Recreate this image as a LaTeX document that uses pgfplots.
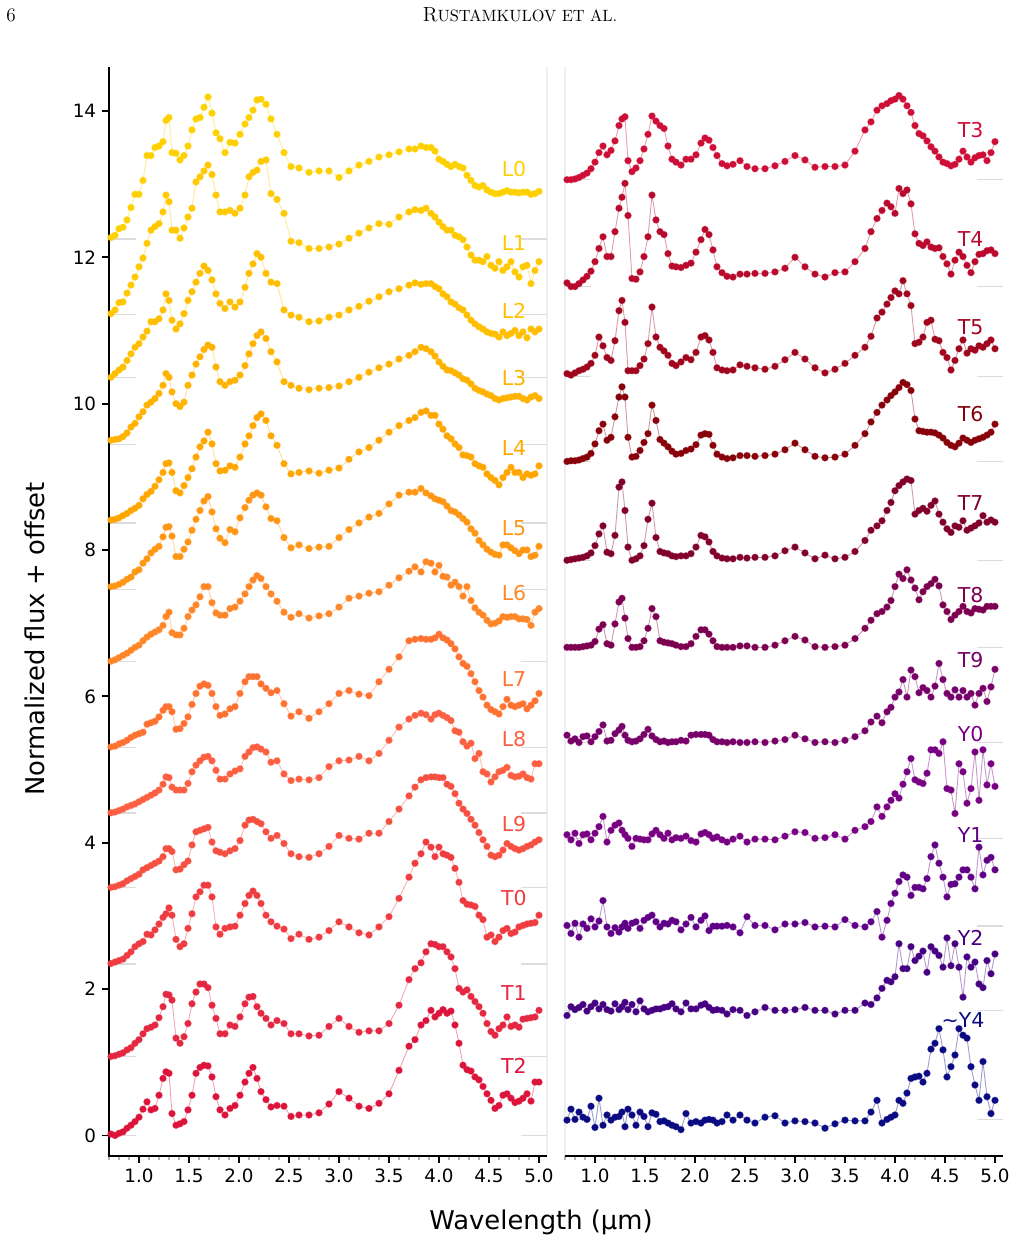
\documentclass[border=0pt]{standalone}
\usepackage{fontspec}
\setsansfont{DejaVu Sans}
\usepackage{pgfplots}
\usepackage{pgfplotstable}
\pgfplotsset{compat=1.18}

% spectral-type colour sequence
\definecolor{cL0}{RGB}{255,208,0}
\definecolor{cL1}{RGB}{255,200,0}
\definecolor{cL2}{RGB}{255,190,0}
\definecolor{cL3}{RGB}{255,178,0}
\definecolor{cL4}{RGB}{255,166,0}
\definecolor{cL5}{RGB}{255,150,20}
\definecolor{cL6}{RGB}{255,135,40}
\definecolor{cL7}{RGB}{255,115,50}
\definecolor{cL8}{RGB}{252,95,65}
\definecolor{cL9}{RGB}{245,80,65}
\definecolor{cT0}{RGB}{238,60,65}
\definecolor{cT1}{RGB}{228,40,65}
\definecolor{cT2}{RGB}{220,20,60}
\definecolor{cT3}{RGB}{205,15,55}
\definecolor{cT4}{RGB}{185,10,45}
\definecolor{cT5}{RGB}{160,5,30}
\definecolor{cT6}{RGB}{135,0,10}
\definecolor{cT7}{RGB}{130,0,45}
\definecolor{cT8}{RGB}{125,0,80}
\definecolor{cT9}{RGB}{120,0,105}
\definecolor{cY0}{RGB}{120,0,130}
\definecolor{cY1}{RGB}{95,0,135}
\definecolor{cY2}{RGB}{70,0,130}
\definecolor{cY4}{RGB}{10,10,130}
\definecolor{basecol}{RGB}{220,220,220}
\definecolor{spinecol}{RGB}{238,238,238}

% normalized flux, one row per object (header row = wavelength in micron)
\pgfplotstableread[row sep=\\]{
wl 0.72 0.76 0.80 0.84 0.88 0.92 0.96 1.00 1.04 1.08 1.12 1.16 1.20 1.24 1.27 1.30 1.33 1.37 1.41 1.45 1.49 1.53 1.57 1.61 1.65 1.69 1.73 1.77 1.81 1.86 1.91 1.96 2.01 2.06 2.10 2.14 2.18 2.22 2.27 2.32 2.38 2.45 2.52 2.60 2.70 2.80 2.90 3.00 3.10 3.20 3.30 3.40 3.50 3.60 3.70 3.76 3.82 3.87 3.92 3.96 4.00 4.04 4.08 4.12 4.16 4.20 4.24 4.28 4.32 4.36 4.40 4.44 4.48 4.52 4.56 4.60 4.64 4.68 4.72 4.76 4.80 4.84 4.88 4.92 4.96 5.00 \\
L0 0.02 0.05 0.14 0.16 0.26 0.43 0.61 0.61 0.80 1.14
   1.14 1.25 1.27 1.33 1.62 1.66 1.18 1.17 1.08 1.14
   1.27 1.49 1.64 1.66 1.80 1.94 1.72 1.45 1.37 1.18
   1.32 1.31 1.43 1.57 1.66 1.76 1.90 1.91 1.84 1.64
   1.43 1.18 0.99 0.97 0.91 0.93 0.93 0.84 0.93 1.01
   1.06 1.12 1.15 1.19 1.23 1.23 1.27 1.25 1.25 1.20
   1.09 1.06 1.02 0.99 1.02 0.99 0.97 0.87 0.80 0.73
   0.71 0.73 0.67 0.64 0.62 0.62 0.64 0.66 0.64 0.64
   0.63 0.64 0.64 0.61 0.62 0.65 \\
L1 0.01 0.06 0.16 0.17 0.29 0.40 0.51 0.65 0.77 0.97
   1.15 1.20 1.24 1.40 1.63 1.54 1.15 1.15 1.04 1.18
   1.33 1.45 1.81 1.88 1.96 2.04 1.91 1.63 1.40 1.40
   1.42 1.38 1.45 1.63 1.88 1.94 1.97 2.09 2.11 1.65
   1.57 1.38 1.00 0.98 0.90 0.90 0.92 0.96 1.04 1.11
   1.18 1.24 1.23 1.33 1.40 1.43 1.42 1.45 1.38 1.33
   1.26 1.20 1.15 1.15 1.08 1.06 1.02 0.92 0.81 0.74
   0.74 0.72 0.79 0.67 0.63 0.72 0.60 0.65 0.72 0.58
   0.51 0.65 0.67 0.42 0.60 0.72 \\
L2 0.00 0.05 0.10 0.14 0.23 0.32 0.41 0.46 0.55 0.63
   0.76 0.76 0.80 0.92 1.14 1.05 0.78 0.66 0.73 0.87
   1.05 1.17 1.30 1.42 1.52 1.46 1.33 1.14 1.01 0.94
   1.03 0.96 1.03 1.23 1.42 1.55 1.69 1.64 1.42 1.30
   1.28 0.92 0.85 0.82 0.76 0.77 0.82 0.85 0.92 0.97
   1.04 1.10 1.17 1.21 1.26 1.29 1.27 1.28 1.28 1.24
   1.21 1.14 1.10 1.03 1.00 0.95 0.92 0.85 0.78 0.73
   0.69 0.66 0.62 0.60 0.59 0.55 0.62 0.57 0.60 0.64
   0.57 0.62 0.54 0.66 0.62 0.66 \\
L3 0.06 0.07 0.08 0.11 0.16 0.24 0.29 0.38 0.45 0.54
   0.58 0.63 0.70 0.81 0.97 0.92 0.72 0.56 0.52 0.58
   0.81 0.95 1.10 1.20 1.30 1.36 1.33 1.06 0.86 0.81
   0.86 0.88 0.95 1.08 1.24 1.38 1.49 1.54 1.45 1.27
   1.13 0.86 0.81 0.77 0.75 0.77 0.78 0.80 0.86 0.92
   0.99 1.05 1.10 1.17 1.22 1.27 1.33 1.31 1.27 1.21
   1.13 1.07 1.02 1.01 0.98 0.95 0.90 0.88 0.83 0.77
   0.74 0.72 0.69 0.67 0.63 0.61 0.63 0.64 0.65 0.66
   0.66 0.63 0.61 0.65 0.67 0.63 \\
L4 0.04 0.05 0.07 0.10 0.13 0.17 0.20 0.24 0.33 0.39
   0.43 0.50 0.59 0.69 0.81 0.82 0.69 0.44 0.41 0.51
   0.62 0.74 0.90 1.04 1.12 1.24 1.08 0.81 0.71 0.72
   0.78 0.76 0.90 1.08 1.19 1.33 1.44 1.49 1.40 1.19
   1.06 0.81 0.67 0.69 0.71 0.68 0.72 0.75 0.87 0.97
   1.03 1.13 1.24 1.33 1.40 1.44 1.51 1.53 1.47 1.47
   1.35 1.28 1.19 1.15 1.08 1.03 0.93 0.92 0.90 0.81
   0.78 0.76 0.67 0.62 0.58 0.52 0.62 0.69 0.76 0.69
   0.69 0.62 0.67 0.65 0.67 0.78 \\
L5 0.04 0.05 0.07 0.10 0.14 0.17 0.24 0.27 0.36 0.42
   0.50 0.55 0.59 0.72 0.85 0.86 0.73 0.45 0.45 0.55
   0.65 0.81 0.96 1.08 1.21 1.27 1.06 0.83 0.70 0.64
   0.82 0.79 0.98 1.12 1.22 1.29 1.32 1.29 1.13 0.97
   0.94 0.71 0.57 0.61 0.56 0.58 0.59 0.71 0.82 0.91
   0.99 1.04 1.17 1.29 1.33 1.33 1.38 1.32 1.28 1.24
   1.22 1.20 1.14 1.08 1.06 1.02 0.97 0.92 0.83 0.77
   0.67 0.61 0.55 0.51 0.48 0.47 0.61 0.61 0.57 0.53
   0.49 0.54 0.54 0.45 0.47 0.59 \\
L6 0.00 0.02 0.05 0.08 0.11 0.15 0.19 0.22 0.28 0.33
   0.37 0.40 0.43 0.49 0.61 0.67 0.39 0.36 0.36 0.45
   0.61 0.70 0.77 0.88 1.02 1.02 0.80 0.66 0.63 0.63
   0.72 0.74 0.82 0.92 1.02 1.11 1.17 1.13 1.02 0.92
   0.82 0.67 0.60 0.65 0.59 0.62 0.65 0.74 0.86 0.89
   0.93 0.95 1.04 1.14 1.23 1.29 1.22 1.36 1.34 1.22
   1.31 1.16 1.15 1.04 1.08 1.02 0.89 1.02 0.83 0.73
   0.67 0.63 0.56 0.51 0.52 0.55 0.61 0.60 0.61 0.61
   0.58 0.58 0.57 0.49 0.67 0.72 \\
L7 0.01 0.02 0.05 0.07 0.10 0.14 0.17 0.19 0.21 0.32
   0.34 0.36 0.42 0.51 0.56 0.56 0.49 0.25 0.26 0.33
   0.42 0.59 0.74 0.84 0.87 0.85 0.74 0.56 0.44 0.46
   0.53 0.56 0.74 0.90 0.97 0.97 0.97 0.87 0.81 0.75
   0.78 0.60 0.43 0.49 0.40 0.49 0.60 0.74 0.78 0.73
   0.71 0.90 1.07 1.24 1.46 1.48 1.49 1.48 1.48 1.50
   1.55 1.50 1.47 1.42 1.35 1.24 1.15 1.11 1.01 0.90
   0.78 0.69 0.58 0.52 0.49 0.46 0.56 0.66 0.58 0.56
   0.58 0.60 0.53 0.58 0.64 0.74 \\
L8 0.00 0.01 0.03 0.05 0.08 0.10 0.12 0.15 0.18 0.21
   0.24 0.27 0.31 0.39 0.49 0.48 0.35 0.31 0.31 0.31
   0.40 0.56 0.65 0.71 0.76 0.77 0.71 0.58 0.46 0.46
   0.53 0.57 0.60 0.77 0.83 0.89 0.90 0.87 0.83 0.69
   0.71 0.53 0.44 0.46 0.45 0.48 0.63 0.71 0.72 0.77
   0.71 0.81 0.99 1.17 1.28 1.33 1.36 1.34 1.28 1.34
   1.36 1.33 1.30 1.26 1.12 1.10 0.97 0.91 0.95 0.74
   0.81 0.56 0.53 0.42 0.49 0.56 0.58 0.62 0.51 0.49
   0.50 0.53 0.48 0.46 0.67 0.67 \\
L9 0.00 0.01 0.03 0.05 0.09 0.12 0.15 0.18 0.24 0.27
   0.30 0.33 0.36 0.42 0.53 0.53 0.49 0.24 0.25 0.31
   0.36 0.58 0.76 0.78 0.80 0.82 0.62 0.50 0.48 0.46
   0.50 0.53 0.64 0.85 0.92 0.93 0.90 0.87 0.76 0.67
   0.71 0.60 0.46 0.42 0.41 0.46 0.56 0.71 0.67 0.66
   0.74 0.74 0.90 1.07 1.25 1.37 1.47 1.50 1.51 1.51
   1.50 1.50 1.41 1.38 1.28 1.15 1.07 1.01 0.93 0.85
   0.75 0.65 0.56 0.44 0.42 0.44 0.51 0.60 0.56 0.53
   0.51 0.53 0.56 0.58 0.62 0.65 \\
T0 0.01 0.03 0.05 0.07 0.12 0.17 0.24 0.28 0.31 0.41
   0.40 0.47 0.55 0.64 0.69 0.77 0.67 0.34 0.24 0.28
   0.49 0.69 0.92 0.99 1.08 1.08 0.92 0.51 0.41 0.49
   0.51 0.52 0.67 0.83 0.94 1.00 0.94 0.83 0.67 0.58
   0.52 0.48 0.35 0.41 0.34 0.37 0.46 0.58 0.51 0.43
   0.40 0.51 0.65 0.90 1.19 1.38 1.51 1.67 1.60 1.47
   1.60 1.51 1.49 1.46 1.31 1.12 0.87 0.82 0.81 0.79
   0.67 0.61 0.37 0.40 0.31 0.37 0.46 0.49 0.42 0.44
   0.51 0.53 0.55 0.56 0.57 0.67 \\
T1 0.00 0.01 0.03 0.05 0.09 0.12 0.18 0.23 0.31 0.38
   0.40 0.43 0.53 0.68 0.85 0.84 0.77 0.25 0.18 0.27
   0.45 0.72 0.88 0.99 0.99 0.94 0.70 0.52 0.31 0.31
   0.43 0.41 0.54 0.72 0.81 0.82 0.68 0.59 0.52 0.43
   0.49 0.45 0.31 0.31 0.28 0.29 0.41 0.52 0.41 0.33
   0.35 0.35 0.45 0.70 1.05 1.20 1.28 1.43 1.54 1.53
   1.50 1.50 1.43 1.36 1.20 0.93 0.88 0.91 0.82 0.75
   0.68 0.59 0.45 0.34 0.29 0.38 0.43 0.54 0.41 0.43
   0.40 0.51 0.52 0.53 0.54 0.63 \\
T2 0.02 0.00 0.03 0.05 0.10 0.14 0.19 0.25 0.36 0.46
   0.35 0.37 0.55 0.78 0.87 0.85 0.30 0.14 0.16 0.19
   0.35 0.55 0.85 0.93 0.96 0.95 0.80 0.53 0.35 0.28
   0.37 0.41 0.55 0.73 0.85 0.93 0.78 0.60 0.49 0.39
   0.41 0.40 0.26 0.28 0.28 0.31 0.43 0.60 0.51 0.40
   0.37 0.44 0.57 0.89 1.22 1.31 1.51 1.57 1.71 1.62
   1.67 1.72 1.67 1.70 1.51 1.26 0.96 0.90 0.88 0.80
   0.76 0.67 0.57 0.48 0.37 0.41 0.55 0.57 0.51 0.45
   0.47 0.51 0.57 0.47 0.73 0.73 \\
}\leftraw

\pgfplotstableread[row sep=\\]{
wl 0.72 0.76 0.80 0.84 0.88 0.92 0.96 1.00 1.04 1.08 1.12 1.16 1.20 1.24 1.27 1.30 1.33 1.37 1.41 1.45 1.49 1.53 1.57 1.61 1.65 1.69 1.73 1.77 1.81 1.86 1.91 1.96 2.01 2.06 2.10 2.14 2.18 2.22 2.27 2.32 2.38 2.45 2.52 2.60 2.70 2.80 2.90 3.00 3.10 3.20 3.30 3.40 3.50 3.60 3.70 3.76 3.82 3.87 3.92 3.96 4.00 4.04 4.08 4.12 4.16 4.20 4.24 4.28 4.32 4.36 4.40 4.44 4.48 4.52 4.56 4.60 4.64 4.68 4.72 4.76 4.80 4.84 4.88 4.92 4.96 5.00 \\
T3 0.00 0.00 0.01 0.03 0.06 0.09 0.15 0.24 0.37 0.46
   0.34 0.40 0.53 0.74 0.83 0.86 0.26 0.11 0.16 0.26
   0.42 0.62 0.87 0.80 0.74 0.70 0.46 0.28 0.24 0.20
   0.28 0.28 0.34 0.50 0.57 0.54 0.44 0.33 0.22 0.19
   0.21 0.26 0.18 0.15 0.15 0.19 0.25 0.33 0.27 0.17
   0.18 0.18 0.20 0.39 0.68 0.79 0.95 1.01 1.04 1.08
   1.10 1.15 1.10 1.01 0.92 0.74 0.63 0.60 0.53 0.45
   0.39 0.31 0.24 0.22 0.19 0.21 0.28 0.39 0.31 0.24
   0.30 0.33 0.34 0.26 0.37 0.52 \\
T4 0.05 0.00 0.00 0.04 0.09 0.14 0.21 0.34 0.52 0.68
   0.41 0.41 0.75 1.07 1.22 1.41 0.97 0.11 0.10 0.20
   0.41 0.68 1.25 0.91 0.75 0.71 0.45 0.28 0.27 0.26
   0.29 0.32 0.47 0.64 0.78 0.71 0.50 0.27 0.19 0.14
   0.13 0.17 0.17 0.18 0.18 0.20 0.25 0.40 0.27 0.17
   0.13 0.19 0.20 0.34 0.52 0.75 0.93 1.04 1.14 1.09
   1.00 1.34 1.27 1.32 1.13 0.72 0.59 0.56 0.61 0.54
   0.52 0.53 0.41 0.31 0.17 0.36 0.47 0.41 0.29 0.19
   0.34 0.44 0.45 0.49 0.50 0.45 \\
T5 0.04 0.02 0.05 0.08 0.10 0.13 0.18 0.29 0.54 0.42
   0.26 0.22 0.49 0.90 1.04 0.74 0.08 0.08 0.08 0.15
   0.24 0.45 0.95 0.54 0.40 0.35 0.29 0.18 0.15 0.20
   0.26 0.23 0.33 0.54 0.56 0.50 0.33 0.12 0.09 0.08
   0.09 0.16 0.14 0.12 0.10 0.14 0.23 0.33 0.24 0.12
   0.05 0.10 0.18 0.29 0.40 0.55 0.80 0.88 0.99 1.08
   1.17 1.13 1.31 1.13 0.97 0.45 0.47 0.54 0.74 0.77
   0.51 0.49 0.33 0.26 0.09 0.22 0.38 0.50 0.32 0.38
   0.36 0.42 0.40 0.45 0.50 0.38 \\
T6 0.00 0.01 0.01 0.02 0.04 0.06 0.11 0.24 0.42 0.51
   0.29 0.33 0.61 0.88 1.02 0.88 0.33 0.06 0.07 0.15
   0.26 0.38 0.77 0.56 0.30 0.25 0.20 0.14 0.10 0.11
   0.15 0.17 0.23 0.36 0.38 0.37 0.22 0.10 0.06 0.04
   0.05 0.08 0.08 0.07 0.08 0.10 0.16 0.25 0.16 0.07
   0.05 0.06 0.10 0.22 0.38 0.54 0.67 0.77 0.84 0.90
   0.95 1.01 1.08 1.05 0.97 0.58 0.42 0.41 0.40 0.40
   0.39 0.36 0.32 0.26 0.22 0.20 0.25 0.32 0.29 0.26
   0.29 0.31 0.33 0.36 0.40 0.51 \\
T7 0.00 0.01 0.02 0.03 0.04 0.06 0.10 0.20 0.36 0.47
   0.11 0.09 0.34 1.00 1.07 0.68 0.18 0.00 0.02 0.06
   0.20 0.56 0.78 0.31 0.12 0.10 0.09 0.06 0.05 0.06
   0.06 0.09 0.18 0.34 0.32 0.25 0.12 0.06 0.03 0.02
   0.02 0.04 0.03 0.04 0.04 0.06 0.13 0.18 0.10 0.02
   0.07 0.02 0.04 0.12 0.27 0.41 0.47 0.54 0.68 0.79
   0.95 1.02 1.07 1.11 1.09 0.63 0.68 0.71 0.67 0.75
   0.81 0.63 0.52 0.43 0.38 0.47 0.45 0.54 0.41 0.44
   0.47 0.51 0.61 0.52 0.55 0.52 \\
T8 0.00 0.00 0.00 0.00 0.01 0.02 0.03 0.08 0.25 0.31
   0.05 0.03 0.32 0.62 0.67 0.40 0.12 0.00 0.00 0.01
   0.09 0.26 0.53 0.42 0.09 0.07 0.06 0.05 0.03 0.01
   0.01 0.05 0.15 0.24 0.24 0.18 0.09 0.01 0.00 0.00
   0.00 0.02 0.02 0.00 0.00 0.03 0.09 0.15 0.10 0.01
   0.00 0.01 0.03 0.12 0.26 0.37 0.46 0.49 0.55 0.64
   0.83 1.00 0.94 1.06 0.92 0.81 0.65 0.76 0.83 0.87
   0.93 0.84 0.58 0.49 0.38 0.44 0.49 0.56 0.49 0.47
   0.53 0.52 0.51 0.56 0.56 0.56 \\
T9 0.10 0.02 0.05 0.00 0.08 0.09 0.01 0.08 0.15 0.24
   0.02 0.03 0.12 0.17 0.22 0.10 0.03 0.01 0.02 0.05
   0.11 0.18 0.09 0.04 0.01 0.02 0.00 0.01 0.01 0.03
   0.02 0.10 0.11 0.11 0.11 0.10 0.04 0.01 0.01 0.00
   0.01 0.00 0.00 0.01 0.00 0.02 0.04 0.10 0.05 0.00
   0.01 0.00 0.03 0.08 0.16 0.28 0.36 0.27 0.42 0.48
   0.62 0.69 0.86 0.62 0.99 0.90 0.68 0.75 0.71 0.62
   0.77 1.08 0.86 0.67 0.62 0.72 0.62 0.71 0.62 0.67
   0.51 0.67 0.74 0.56 0.76 1.00 \\
Y0 0.05 -0.02 0.07 -0.07 0.05 0.06 -0.02 0.07 0.16 0.30
   -0.05 0.11 0.18 0.21 0.11 0.05 0.00 -0.11 0.00 -0.01
   -0.02 -0.02 0.06 0.11 0.05 0.00 0.07 -0.02 0.01 0.00
   0.03 -0.03 -0.05 0.06 0.08 0.05 0.00 0.02 -0.02 -0.05
   -0.01 0.03 -0.05 -0.01 -0.01 -0.02 0.03 0.09 0.08 0.00
   0.01 0.05 -0.01 0.11 0.16 0.23 0.43 0.30 0.43 0.52
   0.61 0.55 0.74 0.91 1.09 0.80 0.77 0.75 0.89 1.21
   1.21 1.16 1.32 0.68 0.66 0.34 1.02 0.91 0.48 0.68
   1.18 0.52 1.21 0.73 1.02 0.71 \\
Y1 0.01 -0.10 0.04 -0.15 0.03 -0.03 0.10 -0.01 0.07 0.35
   -0.01 -0.10 -0.02 -0.08 -0.01 0.04 -0.03 0.04 0.06 -0.03
   0.08 0.12 0.15 0.06 -0.01 0.04 0.03 0.08 0.06 -0.05
   0.03 0.12 -0.01 0.08 0.14 -0.06 0.00 0.00 0.00 0.01
   -0.01 -0.09 0.13 0.01 0.01 -0.05 0.03 0.03 0.05 -0.01
   0.00 -0.01 0.09 0.01 -0.01 0.06 0.20 -0.15 0.08 0.31
   0.45 0.61 0.70 0.67 0.42 0.53 0.53 0.51 0.65 0.95
   1.11 0.86 0.67 0.40 0.57 0.58 0.67 0.77 0.77 0.67
   0.51 1.08 0.70 0.90 0.94 0.77 \\
Y2 -0.07 0.05 0.01 0.04 0.08 -0.01 0.05 0.10 0.02 0.08
   0.01 -0.01 0.09 0.01 0.05 0.11 0.01 0.08 -0.02 0.13
   0.02 -0.02 0.00 0.02 0.02 0.04 0.05 0.09 0.02 -0.02
   0.10 0.02 0.02 0.07 0.09 0.04 0.00 0.01 0.00 -0.05
   0.01 0.00 -0.07 -0.02 0.04 0.00 0.00 0.01 0.04 0.00
   0.00 -0.05 0.00 0.00 0.10 0.08 0.17 0.30 0.41 0.39
   0.46 0.91 0.57 0.57 0.87 0.68 0.74 0.81 0.52 0.87
   0.81 0.75 0.59 0.99 0.61 0.91 0.59 0.18 0.73 0.59
   0.66 0.36 0.31 0.68 0.50 0.77 \\
Y4 -0.01 0.14 0.00 0.10 0.03 0.00 0.18 -0.11 0.29 -0.08
   0.06 -0.01 0.03 0.04 0.10 -0.10 0.14 0.06 -0.08 0.10
   0.04 -0.10 0.09 0.07 -0.03 -0.02 -0.05 -0.08 -0.10 -0.14
   0.08 -0.05 -0.03 -0.05 -0.01 0.00 -0.01 -0.05 -0.03 0.06
   -0.01 0.06 -0.01 -0.05 0.03 0.05 -0.05 -0.02 -0.03 -0.05
   -0.12 -0.06 -0.01 -0.02 -0.02 0.10 0.26 -0.05 0.00 0.03
   0.06 0.26 0.22 0.36 0.56 0.58 0.59 0.51 0.63 0.96
   1.04 1.24 0.95 0.58 0.72 0.88 1.24 1.15 1.11 0.72
   0.47 0.26 0.79 0.31 0.08 0.26 \\
}\rightraw

\pgfplotstabletranspose[colnames from=wl, input colnames to=wl]{\lefttab}{\leftraw}
\pgfplotstabletranspose[colnames from=wl, input colnames to=wl]{\righttab}{\rightraw}

\pgfplotsset{
  spec/.style={color=#1, line width=0.55pt, draw opacity=0.4,
    mark=*, mark size=2.0pt,
    mark options={solid, draw=none, fill=#1, fill opacity=1}},
  panel/.style={
    anchor=south west, width=262.8pt, height=653.4pt, scale only axis,
    xmin=0.70, xmax=5.08, ymin=-0.28, ymax=14.6,
    clip=false, axis line style={draw=none},
    tick pos=left, tick align=outside,
    xtick={1,1.5,2,2.5,3,3.5,4,4.5,5},
    minor xtick={0.7,0.8,0.9,1.1,1.2,1.3,1.4,1.6,1.7,1.8,1.9,2.1,2.2,2.3,2.4,2.6,2.7,2.8,2.9,3.1,3.2,3.3,3.4,3.6,3.7,3.8,3.9,4.1,4.2,4.3,4.4,4.6,4.7,4.8,4.9},
    xticklabel style={/pgf/number format/.cd, fixed, fixed zerofill, precision=1},
    tick label style={font=\sffamily\fontsize{11}{13}\selectfont},
    /pgf/number format/assume math mode=true,
    major tick length=4.2pt, minor tick length=2.6pt,
    major tick style={black, line width=1.1pt},
    minor tick style={black!30, line width=0.7pt},
  },
}

\newcommand{\spec}[4]{\addplot[spec=#4] table[x=wl, y expr=\thisrow{#2}+#3]{#1};}
\newcommand{\base}[1]{\draw[basecol, line width=0.9pt] (axis cs:0.70,#1) -- (axis cs:0.965,#1) (axis cs:4.82,#1) -- (axis cs:5.08,#1);}
\newcommand{\lab}[4]{\node[font=\sffamily\fontsize{12.3}{14}\selectfont, text=#4] at (axis cs:#1,#2) {#3};}

\begin{document}
\begin{tikzpicture}[x=0.6pt, y=0.6pt]

% L0 - T2
\begin{axis}[panel, name=L, at={(109,88)}, ytick={0,2,...,14}]
  \draw[spinecol, line width=0.9pt] (rel axis cs:1,0) -- (rel axis cs:1,1);
  \base{12.25}\base{11.22}\base{10.36}\base{9.44}\base{8.37}\base{7.46}\base{6.48}
  \base{5.30}\base{4.41}\base{3.39}\base{2.34}\base{1.08}\base{0}
  \spec{\lefttab}{L0}{12.25}{cL0}
  \spec{\lefttab}{L1}{11.22}{cL1}
  \spec{\lefttab}{L2}{10.36}{cL2}
  \spec{\lefttab}{L3}{9.44}{cL3}
  \spec{\lefttab}{L4}{8.37}{cL4}
  \spec{\lefttab}{L5}{7.46}{cL5}
  \spec{\lefttab}{L6}{6.48}{cL6}
  \spec{\lefttab}{L7}{5.30}{cL7}
  \spec{\lefttab}{L8}{4.41}{cL8}
  \spec{\lefttab}{L9}{3.39}{cL9}
  \spec{\lefttab}{T0}{2.34}{cT0}
  \spec{\lefttab}{T1}{1.08}{cT1}
  \spec{\lefttab}{T2}{0}{cT2}
  \lab{4.75}{13.20}{L0}{cL0}
  \lab{4.75}{12.19}{L1}{cL1}
  \lab{4.75}{11.27}{L2}{cL2}
  \lab{4.75}{10.35}{L3}{cL3}
  \lab{4.75}{9.39}{L4}{cL4}
  \lab{4.75}{8.30}{L5}{cL5}
  \lab{4.75}{7.41}{L6}{cL6}
  \lab{4.75}{6.24}{L7}{cL7}
  \lab{4.75}{5.42}{L8}{cL8}
  \lab{4.75}{4.26}{L9}{cL9}
  \lab{4.75}{3.24}{T0}{cT0}
  \lab{4.75}{1.94}{T1}{cT1}
  \lab{4.75}{0.95}{T2}{cT2}
  \draw[black, line width=1.1pt] (rel axis cs:0,1) -- (rel axis cs:0,0) -- (rel axis cs:1,0);
\end{axis}

% T3 - Y4
\begin{axis}[panel, name=R, at={(565,88)}, ytick=\empty]
  \draw[spinecol, line width=0.9pt] (rel axis cs:0,0) -- (rel axis cs:0,1);
  \base{13.06}\base{11.60}\base{10.37}\base{9.21}\base{7.86}\base{6.67}
  \base{5.37}\base{4.06}\base{2.86}\base{1.71}\base{0.22}
  \spec{\righttab}{T3}{13.06}{cT3}
  \spec{\righttab}{T4}{11.60}{cT4}
  \spec{\righttab}{T5}{10.37}{cT5}
  \spec{\righttab}{T6}{9.21}{cT6}
  \spec{\righttab}{T7}{7.86}{cT7}
  \spec{\righttab}{T8}{6.67}{cT8}
  \spec{\righttab}{T9}{5.37}{cT9}
  \spec{\righttab}{Y0}{4.06}{cY0}
  \spec{\righttab}{Y1}{2.86}{cY1}
  \spec{\righttab}{Y2}{1.71}{cY2}
  \spec{\righttab}{Y4}{0.22}{cY4}
  \lab{4.757}{13.74}{T3}{cT3}
  \lab{4.757}{12.25}{T4}{cT4}
  \lab{4.757}{11.05}{T5}{cT5}
  \lab{4.757}{9.86}{T6}{cT6}
  \lab{4.757}{8.64}{T7}{cT7}
  \lab{4.757}{7.38}{T8}{cT8}
  \lab{4.757}{6.50}{T9}{cT9}
  \lab{4.757}{5.48}{Y0}{cY0}
  \lab{4.757}{4.10}{Y1}{cY1}
  \lab{4.757}{2.70}{Y2}{cY2}
  \lab{4.68}{1.58}{\textasciitilde Y4}{cY4}
  \draw[black, line width=1.1pt] (rel axis cs:0,0) -- (rel axis cs:1,0);
\end{axis}

% page frame measured from the lower left corner of the first panel
\coordinate (O) at ([shift={(-109,-88)}]L.south west);

% running head
\node[font=\fontsize{11.5}{13}\selectfont] at ([shift={(11,1229)}]O) {6};
\node at ([shift={(520,1229)}]O) {\fontsize{12.3}{14}\selectfont R\fontsize{9.8}{11}\selectfont USTAMKULOV ET AL.};

% axis titles
\node[font=\sffamily\fontsize{15.5}{18}\selectfont] at ([shift={(541,22)}]O) {Wavelength (µm)};
\node[font=\sffamily\fontsize{15.5}{18}\selectfont, rotate=90] at ([shift={(35,605)}]O) {Normalized flux + offset};

\pgfresetboundingbox
\useasboundingbox (O) rectangle ([shift={(1016,1244)}]O);
\end{tikzpicture}
\end{document}
